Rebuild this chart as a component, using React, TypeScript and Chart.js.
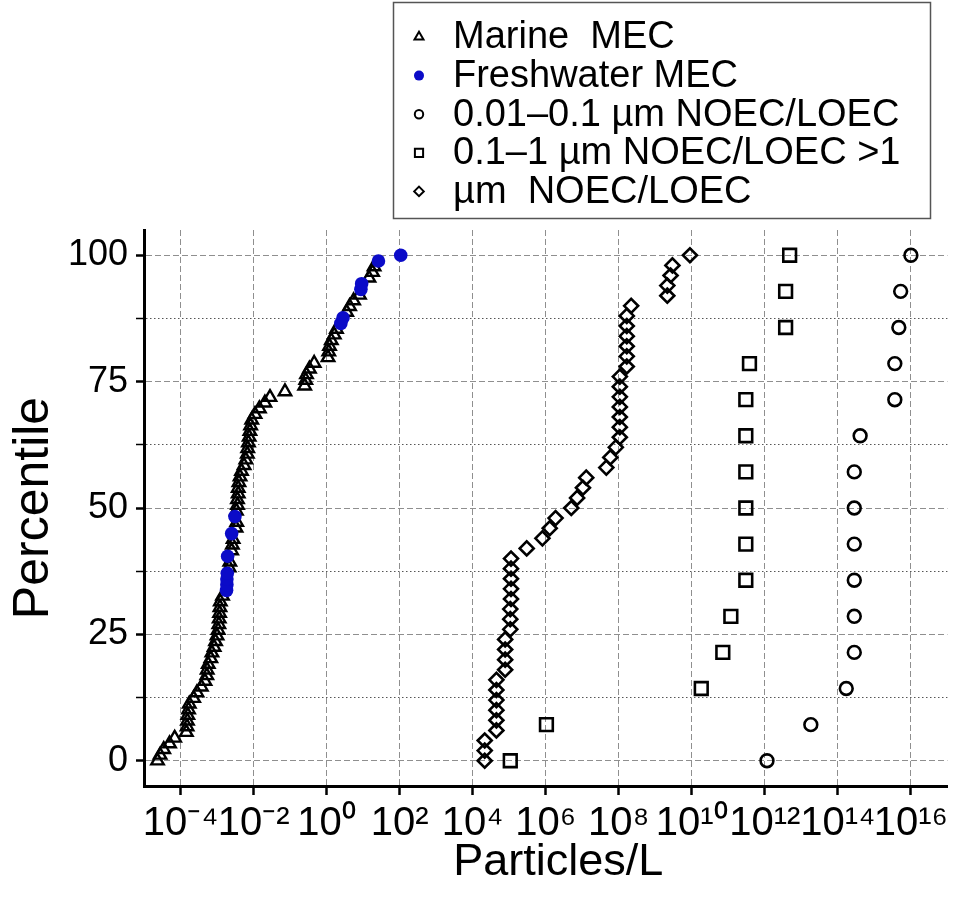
import { useEffect, useRef } from 'react';
import { Chart, registerables } from 'chart.js';

Chart.register(...registerables);

// ---------- data ----------
// Marine MEC (percentile of combined MEC data set, log10 particles/L)
const marinePercentile = [
  0, 1.12, 2.25, 3.37, 4.49, 5.62, 6.74, 7.87, 8.99, 10.11, 11.24, 12.36, 13.48, 14.61, 15.73,
  16.85, 17.98, 19.1, 20.22, 21.35, 22.47, 23.6, 24.72, 25.84, 26.97, 28.09, 29.21, 30.34, 31.46,
  32.58, 38.2, 39.33, 41.57, 42.7, 43.82, 46.07, 47.19, 49.44, 50.56, 51.69, 52.81, 53.93, 55.06,
  56.18, 57.3, 58.43, 59.55, 60.67, 61.8, 62.92, 64.04, 65.17, 66.29, 67.42, 68.54, 69.66, 70.79,
  71.91, 73.03, 74.16, 75.28, 76.4, 77.53, 78.65, 79.78, 80.9, 82.02, 83.15, 84.27, 85.39, 88.76,
  89.89, 91.01, 92.13, 95.51, 96.63, 97.75,
];
const marineLog10 = [
  -4.63, -4.56, -4.46, -4.3, -4.16, -3.84, -3.82, -3.81, -3.8, -3.78, -3.76, -3.64, -3.55, -3.43,
  -3.33, -3.28, -3.27, -3.24, -3.17, -3.14, -3.08, -3.04, -3.0, -2.97, -2.95, -2.94, -2.93, -2.92,
  -2.91, -2.85, -2.67, -2.65, -2.6, -2.58, -2.56, -2.48, -2.46, -2.47, -2.44, -2.44, -2.42, -2.42,
  -2.4, -2.37, -2.33, -2.26, -2.21, -2.17, -2.16, -2.14, -2.12, -2.1, -2.08, -2.05, -1.96, -1.84,
  -1.69, -1.55, -1.14, -0.6, -0.57, -0.55, -0.47, -0.34, 0.04, 0.06, 0.08, 0.13, 0.21, 0.27, 0.55,
  0.63, 0.74, 0.9, 1.16, 1.26, 1.3,
];

// Freshwater MEC
const freshPercentile = [33.71, 34.83, 35.96, 37.08, 40.45, 44.94, 48.31, 86.52, 87.64, 93.26, 94.38, 98.88, 100];
const freshLog10 = [-2.74, -2.73, -2.73, -2.72, -2.71, -2.6, -2.51, 0.39, 0.45, 0.94, 0.96, 1.42, 2.03];

// 0.01–0.1 µm and 0.1–1 µm NOEC/LOEC (15 values each)
const effectPercentile = [0, 7.14, 14.29, 21.43, 28.57, 35.71, 42.86, 50, 57.14, 64.29, 71.43, 78.57, 85.71, 92.86, 100];
const nanoLog10 = [12.06, 13.26, 14.23, 14.45, 14.45, 14.45, 14.45, 14.45, 14.45, 14.61, 15.56, 15.56, 15.67, 15.72, 16.0];
const subMicroLog10 = [5.03, 6.02, 10.26, 10.85, 11.07, 11.48, 11.48, 11.48, 11.48, 11.48, 11.48, 11.58, 12.57, 12.57, 12.68];

// >1 µm NOEC/LOEC (51 values)
const microPercentile = [
  0, 2, 4, 6, 8, 10, 12, 14, 16, 18, 20, 22, 24, 26, 28, 30, 32, 34, 36, 38, 40, 42, 44, 46, 48, 50,
  52, 54, 56, 58, 60, 62, 64, 66, 68, 70, 72, 74, 76, 78, 80, 82, 84, 86, 88, 90, 92, 94, 96, 98, 100,
];
const microLog10 = [
  4.33, 4.33, 4.33, 4.65, 4.65, 4.65, 4.65, 4.65, 4.65, 4.89, 4.89, 4.89, 4.89, 5.03, 5.03, 5.03,
  5.05, 5.05, 5.05, 5.05, 5.05, 5.48, 5.91, 6.11, 6.27, 6.7, 6.86, 7.02, 7.11, 7.66, 7.77, 7.92,
  8.03, 8.03, 8.03, 8.03, 8.03, 8.03, 8.03, 8.22, 8.22, 8.22, 8.22, 8.22, 8.22, 8.34, 9.33, 9.33,
  9.42, 9.47, 9.95,
];

// axis ticks
const xTickExponents = [-4, -2, 0, 2, 4, 6, 8, 10, 12, 14, 16];
const xTickLabels = ['10⁻⁴', '10⁻²', '10⁰', '10²', '10⁴', '10⁶', '10⁸', '10¹⁰', '10¹²', '10¹⁴', '10¹⁶'];
const yTickValues = [0, 12.5, 25, 37.5, 50, 62.5, 75, 87.5, 100];
const yLabelValues = [0, 25, 50, 75, 100];

const seriesLabels = [
  'Marine  MEC',
  'Freshwater MEC',
  '0.01–0.1 µm NOEC/LOEC',
  '0.1–1 µm NOEC/LOEC >1',
  'µm  NOEC/LOEC',
];

// ---------- helpers ----------
const FONT = '"Liberation Sans", Arial, Helvetica, sans-serif';
const BLUE = '#0b0bc8';
const HOLLOW = 'rgba(0,0,0,0)';

const toPoints = (logs: number[], pcts: number[]) =>
  logs.map((v, i) => ({ x: Math.pow(10, v), y: pcts[i] }));

const isMajor = (ctx: any) => ctx.tick && yLabelValues.includes(ctx.tick.value);

function drawMarker(
  ctx: CanvasRenderingContext2D,
  style: string,
  x: number,
  y: number,
  r: number,
  fill: string,
  stroke: string,
  lw: number
) {
  ctx.beginPath();
  if (style === 'triangle') {
    for (let k = 0; k < 3; k++) {
      const a = -Math.PI / 2 + (k * 2 * Math.PI) / 3;
      const px = x + Math.cos(a) * r;
      const py = y + Math.sin(a) * r;
      if (k === 0) ctx.moveTo(px, py);
      else ctx.lineTo(px, py);
    }
    ctx.closePath();
  } else if (style === 'rect') {
    const s = r * Math.SQRT1_2;
    ctx.rect(x - s, y - s, 2 * s, 2 * s);
  } else if (style === 'rectRot') {
    ctx.moveTo(x - r, y);
    ctx.lineTo(x, y - r);
    ctx.lineTo(x + r, y);
    ctx.lineTo(x, y + r);
    ctx.closePath();
  } else {
    ctx.arc(x, y, r, 0, Math.PI * 2);
  }
  if (fill && fill !== HOLLOW) {
    ctx.fillStyle = fill;
    ctx.fill();
  }
  if (lw > 0) {
    ctx.lineWidth = lw;
    ctx.strokeStyle = stroke;
    ctx.stroke();
  }
}

const legendMarkerRadius = [5.2, 5, 4.2, 5.8, 4.8];

const boxLegend = {
  id: 'boxLegend',
  afterDraw(chart: any) {
    const ctx: CanvasRenderingContext2D = chart.ctx;
    ctx.save();
    const left = 393.5;
    const top = 2.5;
    const right = 930.5;
    const bottom = 218.5;
    ctx.fillStyle = '#fff';
    ctx.fillRect(left, top, right - left, bottom - top);
    ctx.strokeStyle = '#555';
    ctx.lineWidth = 1.5;
    ctx.strokeRect(left, top, right - left, bottom - top);
    ctx.font = `38px ${FONT}`;
    ctx.textBaseline = 'middle';
    ctx.textAlign = 'left';
    chart.data.datasets.forEach((ds: any, i: number) => {
      const y = 37 + i * 38.6;
      drawMarker(
        ctx,
        ds.pointStyle,
        419,
        y,
        legendMarkerRadius[i],
        ds.backgroundColor,
        ds.borderColor,
        ds.legendBorder
      );
      ctx.fillStyle = '#000';
      ctx.fillText(ds.label, 453, y + 1);
    });
    ctx.restore();
  },
};

export default function App() {
  const ref = useRef<HTMLCanvasElement>(null);

  useEffect(() => {
    const canvas = ref.current;
    if (!canvas) return;
    Chart.defaults.font.family = FONT;
    const chart = new Chart(canvas, {
      type: 'scatter',
      data: {
        datasets: [
          {
            label: seriesLabels[0],
            data: toPoints(marineLog10, marinePercentile),
            pointStyle: 'triangle',
            pointRadius: 7.2,
            borderColor: '#000',
            backgroundColor: HOLLOW,
            borderWidth: 2.4,
            order: 2,
            legendBorder: 2,
          } as any,
          {
            label: seriesLabels[1],
            data: toPoints(freshLog10, freshPercentile),
            pointStyle: 'circle',
            pointRadius: 6.8,
            borderColor: BLUE,
            backgroundColor: BLUE,
            borderWidth: 0,
            order: 1,
            legendBorder: 0,
          } as any,
          {
            label: seriesLabels[2],
            data: toPoints(nanoLog10, effectPercentile),
            pointStyle: 'circle',
            pointRadius: 6.4,
            borderColor: '#000',
            backgroundColor: HOLLOW,
            borderWidth: 2.6,
            order: 3,
            legendBorder: 2,
          } as any,
          {
            label: seriesLabels[3],
            data: toPoints(subMicroLog10, effectPercentile),
            pointStyle: 'rect',
            pointRadius: 9,
            borderColor: '#000',
            backgroundColor: HOLLOW,
            borderWidth: 2.6,
            order: 4,
            legendBorder: 2,
          } as any,
          {
            label: seriesLabels[4],
            data: toPoints(microLog10, microPercentile),
            pointStyle: 'rectRot',
            pointRadius: 7,
            borderColor: '#000',
            backgroundColor: HOLLOW,
            borderWidth: 2.6,
            order: 5,
            legendBorder: 2,
          } as any,
        ],
      },
      options: {
        responsive: false,
        animation: false,
        devicePixelRatio: 1,
        layout: { padding: { top: 230, right: 4, left: 0, bottom: 0 } },
        plugins: {
          legend: { display: false },
          tooltip: { enabled: false },
        },
        scales: {
          x: {
            type: 'logarithmic',
            position: 'bottom',
            min: 1e-5,
            max: 1e17,
            afterBuildTicks: (s: any) => {
              s.ticks = xTickExponents.map((e) => ({ value: Math.pow(10, e) }));
            },
            afterFit: (s: any) => {
              s.height = 113;
              s.paddingLeft = 0;
              s.paddingRight = 0;
            },
            ticks: {
              autoSkip: false,
              maxRotation: 0,
              minRotation: 0,
              padding: 5,
              color: '#000',
              font: { family: FONT, size: 40 },
              callback: (_v: any, i: number) => xTickLabels[i],
            },
            grid: {
              color: '#8f8f8f',
              lineWidth: 1,
              tickColor: '#000',
              tickWidth: 2.5,
              tickLength: 9,
            },
            border: { display: true, color: '#000', width: 3, dash: [6, 3] },
            title: {
              display: true,
              text: '  Particles/L',
              color: '#000',
              font: { family: FONT, size: 45 },
              padding: { top: 0, bottom: 9 },
            },
          },
          y: {
            type: 'linear',
            min: -5,
            max: 105,
            afterBuildTicks: (s: any) => {
              s.ticks = yTickValues.map((v) => ({ value: v }));
            },
            afterFit: (s: any) => {
              s.width = 144;
              s.paddingTop = 0;
              s.paddingBottom = 0;
            },
            ticks: {
              padding: 8,
              color: '#000',
              font: { family: FONT, size: 36 },
              callback: (v: any) => (yLabelValues.includes(Number(v)) ? String(v) : ''),
            },
            grid: {
              color: (ctx: any) => (isMajor(ctx) ? '#8f8f8f' : '#555'),
              lineWidth: 1,
              tickColor: '#000',
              tickWidth: (ctx: any) => (isMajor(ctx) ? 2.5 : 1.5),
              tickLength: 8,
            },
            border: {
              display: true,
              color: '#000',
              width: 3,
              dash: (ctx: any) => (isMajor(ctx) ? [6, 3] : [1.5, 2.5]),
            },
            title: {
              display: true,
              text: 'Percentile',
              color: '#000',
              font: { family: FONT, size: 50 },
              padding: { top: 4, bottom: 4 },
            },
          },
        },
      } as any,
      plugins: [boxLegend],
    });
    return () => chart.destroy();
  }, []);

  return (
    <canvas
      ref={ref}
      width={959}
      height={899}
      style={{ position: 'absolute', left: 0, top: 0, width: 959, height: 899 }}
    />
  );
}
